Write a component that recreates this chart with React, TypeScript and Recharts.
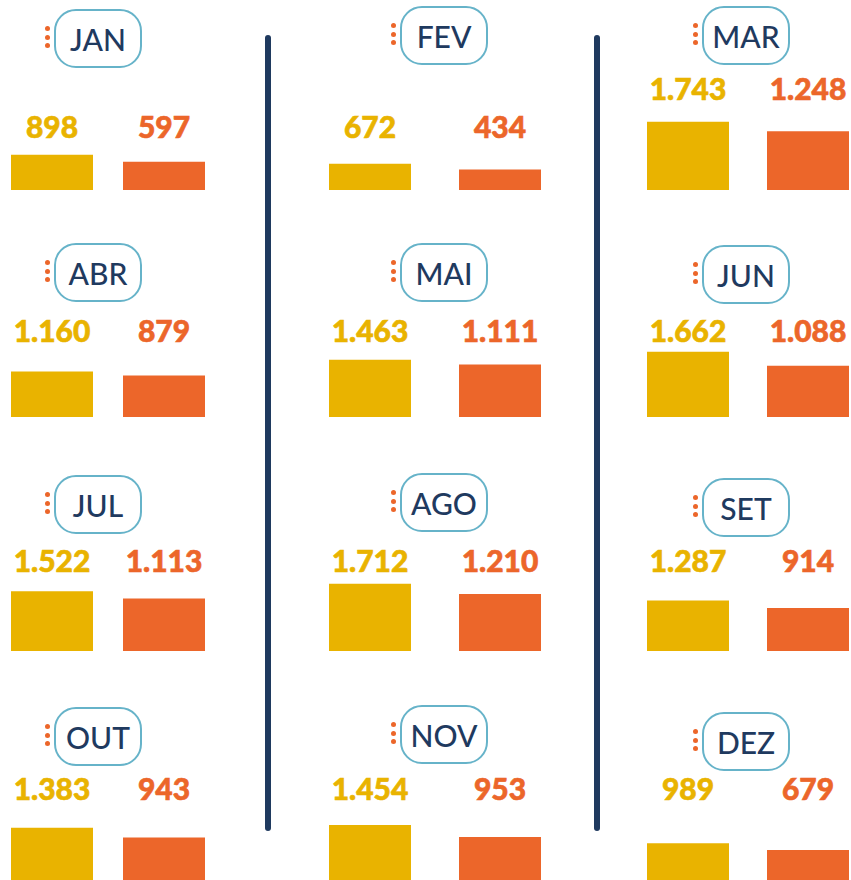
import { BarChart, Bar, XAxis, YAxis, LabelList } from 'recharts'

const months = ['JAN', 'FEV', 'MAR', 'ABR', 'MAI', 'JUN', 'JUL', 'AGO', 'SET', 'OUT', 'NOV', 'DEZ']
const entradas = [898, 672, 1743, 1160, 1463, 1662, 1522, 1712, 1287, 1383, 1454, 989]
const saidas = [597, 434, 1248, 879, 1111, 1088, 1113, 1210, 914, 943, 953, 679]

const YELLOW = '#e9b300'
const ORANGE = '#ec662a'
const NAVY = '#1f3a5f'
const BADGE = '#66b3c9'

// layout of the 3 x 4 grid
const cols = [
  { barLeft: 11, gap: 30, boxLeft: 54 },
  { barLeft: 329, gap: 48, boxLeft: 400 },
  { barLeft: 647, gap: 38, boxLeft: 702 },
]
const rowBottom = [190, 417, 651, 882]
const labelY = [126, 126, 88, 330, 330, 330, 560, 560, 560, 788, 788, 788]
const boxTop = [9, 6, 6, 243, 243, 245, 475, 473, 478, 707, 705, 712]

const BAR = 82
const PLOT_H = 100
const TOP = 130
const PAD = 10

const fmt = (v: number) => String(v).replace(/\B(?=(\d{3})+(?!\d))/g, '.')

function valueLabel(color: string, y: number) {
  return (props: any) => {
    const { x, width, value } = props
    return (
      <text
        x={Number(x) + Number(width) / 2}
        y={y}
        textAnchor="middle"
        dominantBaseline="central"
        fill={color}
        stroke={color}
        strokeWidth={0.6}
        style={{ fontFamily: 'Lato', fontWeight: 900, fontSize: 30 }}
      >
        {fmt(Number(value))}
      </text>
    )
  }
}

function MonthCell({ i }: { i: number }) {
  const col = cols[i % 3]
  const row = Math.floor(i / 3)
  const width = BAR * 2 + col.gap + PAD * 2
  const top = rowBottom[row] - PLOT_H - TOP
  const ly = labelY[i] - top
  const data = [{ m: months[i], entradas: entradas[i], saidas: saidas[i] }]
  const boxCenter = boxTop[i] + 29.5

  return (
    <>
      <div style={{ position: 'absolute', left: col.barLeft - PAD, top }}>
        <BarChart
          width={width}
          height={PLOT_H + TOP}
          data={data}
          margin={{ top: TOP, right: 0, bottom: 0, left: 0 }}
          barCategoryGap={0}
          barGap={col.gap}
        >
          <XAxis dataKey="m" hide />
          <YAxis yAxisId="y" hide domain={[0, 2550]} />
          <YAxis yAxisId="o" hide domain={[0, 2120]} />
          <Bar dataKey="entradas" yAxisId="y" fill={YELLOW} barSize={BAR} isAnimationActive={false}>
            <LabelList dataKey="entradas" content={valueLabel(YELLOW, ly)} />
          </Bar>
          <Bar dataKey="saidas" yAxisId="o" fill={ORANGE} barSize={BAR} isAnimationActive={false}>
            <LabelList dataKey="saidas" content={valueLabel(ORANGE, ly)} />
          </Bar>
        </BarChart>
      </div>
      <div
        style={{
          position: 'absolute',
          left: col.boxLeft,
          top: boxTop[i],
          width: 88,
          height: 59,
          boxSizing: 'border-box',
          border: `2.5px solid ${BADGE}`,
          borderRadius: 22,
          background: '#fff',
          display: 'flex',
          alignItems: 'center',
          justifyContent: 'center',
          fontFamily: 'Lato',
          fontWeight: 500,
          fontSize: 30,
          color: NAVY,
          paddingTop: 1,
        }}
      >
        {months[i]}
      </div>
      {[-10, -1.5, 7].map((d) => (
        <div
          key={d}
          style={{
            position: 'absolute',
            left: col.boxLeft - 9.5,
            top: boxCenter + d - 2.5,
            width: 5,
            height: 5,
            borderRadius: 3,
            background: ORANGE,
          }}
        />
      ))}
    </>
  )
}

export default function App() {
  return (
    <div
      style={{
        position: 'fixed',
        left: 0,
        top: 0,
        width: 851,
        height: 880,
        overflow: 'hidden',
        background: '#fff',
      }}
    >
      {[268, 597].map((x) => (
        <div
          key={x}
          style={{
            position: 'absolute',
            left: x - 3,
            top: 35,
            width: 6,
            height: 796,
            borderRadius: 3,
            background: NAVY,
          }}
        />
      ))}
      {months.map((m, i) => (
        <MonthCell key={m} i={i} />
      ))}
    </div>
  )
}
